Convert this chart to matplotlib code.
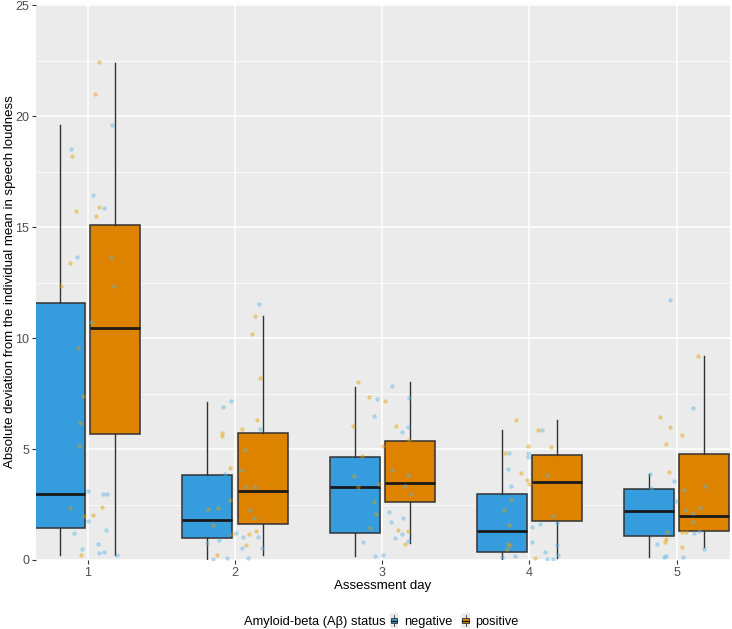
import numpy as np
import matplotlib
matplotlib.use('Agg')
import matplotlib.pyplot as plt
from matplotlib.patches import Patch, Rectangle
from matplotlib.lines import Line2D
from matplotlib.legend_handler import HandlerBase

plt.rcParams['font.family'] = ['Liberation Sans', 'DejaVu Sans']

days = [1, 2, 3, 4, 5]
groups = ['negative', 'positive']

# box statistics: lower whisker, q1, median, q3, upper whisker
neg_lo = [0.23, 0.0, 0.18, 0.0, 0.14]
neg_q1 = [1.44, 0.99, 1.20, 0.36, 1.08]
neg_med = [2.97, 1.80, 3.29, 1.31, 2.20]
neg_q3 = [11.58, 3.83, 4.65, 2.97, 3.20]
neg_hi = [19.6, 7.1, 7.8, 5.86, 3.87]

pos_lo = [0.23, 0.23, 0.76, 0.10, 0.59]
pos_q1 = [5.67, 1.62, 2.60, 1.76, 1.30]
pos_med = [10.45, 3.10, 3.46, 3.51, 1.98]
pos_q3 = [15.1, 5.72, 5.37, 4.73, 4.77]
pos_hi = [22.4, 11.0, 8.0, 6.3, 9.2]

# jittered raw points: values and horizontal jitter (in day units), per day
neg_y = [
    [19.6, 18.5, 16.44, 15.85, 13.65, 13.66, 12.36, 10.73, 3.09, 2.99, 2.99, 1.77, 1.34, 1.23, 0.73, 0.51, 0.3, 0.36, 0.21],
    [11.55, 7.16, 6.89, 5.91, 4.94, 4.07, 3.87, 3.3, 3.3, 2.25, 1.91, 1.2, 1.04, 1.02, 0.75, 0.89, 0.55, 0.55, 0.09, 0.03, 0.1],
    [7.82, 7.24, 7.3, 6.47, 5.99, 5.77, 4.04, 3.84, 3.33, 2.99, 2.18, 1.71, 1.89, 1.16, 1.0, 0.86, 0.83, 0.18, 0.21],
    [5.87, 4.82, 4.8, 4.63, 4.08, 3.33, 3.84, 2.0, 1.47, 1.61, 1.65, 0.83, 0.68, 0.35, 0.2, 0.14, 0.06, 0.03, 0.23],
    [11.73, 6.85, 3.86, 3.56, 3.26, 3.17, 3.33, 2.67, 2.24, 2.1, 2.33, 1.73, 1.22, 1.32, 0.71, 0.51, 0.17, 0.12, 0.12],
]
neg_jit = [
    [0.165, -0.114, 0.036, 0.113, -0.073, 0.158, 0.18, 0.022, 0.004, 0.104, 0.131, 0.0, 0.127, -0.091, 0.072, -0.039, 0.075, 0.113, 0.2],
    [0.161, -0.029, -0.079, 0.168, 0.068, 0.05, -0.07, 0.078, 0.137, 0.1, 0.132, 0.005, 0.16, 0.054, -0.193, -0.106, 0.048, 0.184, -0.052, -0.147, 0.09],
    [0.07, -0.034, 0.18, -0.059, 0.172, 0.133, 0.068, 0.174, 0.152, 0.193, 0.045, 0.061, 0.142, 0.133, 0.09, 0.176, -0.129, -0.05, 0.007],
    [0.086, -0.138, -0.007, -0.011, -0.147, -0.122, 0.118, 0.159, 0.016, 0.073, 0.184, 0.018, 0.19, 0.104, -0.095, -0.186, 0.118, 0.159, 0.193],
    [-0.043, 0.109, -0.18, -0.02, -0.174, 0.048, 0.19, -0.003, 0.054, 0.113, 0.158, 0.113, 0.12, 0.152, -0.136, 0.183, -0.073, -0.086, 0.044],
]
pos_y = [
    [22.45, 21.0, 18.2, 15.73, 15.9, 15.5, 13.4, 12.36, 9.53, 7.39, 6.18, 5.13, 2.34, 2.0, 2.4, 2.04, 0.23],
    [11.0, 10.18, 8.21, 6.29, 5.9, 5.7, 5.59, 4.13, 2.7, 2.31, 2.34, 1.58, 1.16, 1.31, 1.16, 0.66, 0.21],
    [8.03, 7.36, 7.15, 6.05, 6.04, 5.41, 5.14, 4.7, 3.78, 3.3, 3.42, 2.6, 2.09, 1.43, 1.34, 1.32, 0.72],
    [6.31, 5.86, 5.14, 5.08, 4.8, 3.9, 3.6, 3.42, 2.72, 2.27, 1.58, 0.71, 0.66, 0.51, 0.08],
    [9.2, 6.43, 6.0, 5.63, 5.21, 3.95, 1.28, 1.28, 1.26, 0.96, 0.8, 0.6],
]
pos_jit = [
    [0.075, 0.05, -0.109, -0.078, 0.079, 0.054, -0.118, -0.18, -0.068, -0.034, -0.052, -0.057, -0.122, -0.025, 0.097, 0.038, -0.046],
    [0.134, 0.113, 0.172, 0.153, 0.048, -0.091, -0.086, -0.034, -0.034, -0.18, -0.113, -0.147, -0.023, 0.14, 0.098, 0.075, -0.12],
    [-0.166, -0.088, 0.02, -0.197, 0.093, 0.18, 0.007, -0.136, -0.19, -0.161, -0.023, -0.057, -0.041, -0.084, 0.108, 0.176, 0.156],
    [-0.092, 0.059, -0.007, 0.147, -0.163, -0.059, -0.014, -0.005, -0.125, -0.172, -0.136, -0.147, -0.129, -0.154, 0.039],
    [0.143, -0.11, -0.048, 0.038, -0.07, -0.052, -0.063, 0.038, 0.063, -0.075, -0.08, 0.034],
]

box_colors = ['#359CDE', '#DE8300']
point_colors = ['#56B4E9', '#E69F00']


class BoxKey(HandlerBase):
    # small boxplot glyph like the ggplot legend key
    def create_artists(self, legend, orig_handle, xdescent, ydescent, width, height, fontsize, trans):
        bg = Rectangle((-xdescent, -ydescent - 2), width, height + 4, facecolor='#EBEBEB', edgecolor='none', transform=trans)
        cx = -xdescent + width / 2
        whisk = Line2D([cx, cx], [-ydescent - 1, -ydescent + height + 1], color='#333333', lw=0.6, transform=trans)
        box = Rectangle((-xdescent + width * 0.1, -ydescent + height * 0.2), width * 0.8, height * 0.6,
                        facecolor=orig_handle.get_facecolor(), edgecolor='#333333', lw=0.6, transform=trans)
        med = Line2D([-xdescent + width * 0.1, -xdescent + width * 0.9], [-ydescent + height / 2] * 2,
                     color='#1a1a1a', lw=1.0, transform=trans)
        return [bg, whisk, box, med]


fig = plt.figure(figsize=(7.32, 6.29), dpi=100)
ax = fig.add_axes([36 / 732, 1 - 560 / 629, 694 / 732, 556 / 629])
ax.set_facecolor('#EBEBEB')

dodge = 0.1875
width = 0.34
stats_sets = [
    (neg_lo, neg_q1, neg_med, neg_q3, neg_hi),
    (pos_lo, pos_q1, pos_med, pos_q3, pos_hi),
]
for g, (lo, q1, med, q3, hi) in enumerate(stats_sets):
    stats = []
    for i in range(len(days)):
        stats.append({'whislo': lo[i], 'q1': q1[i], 'med': med[i], 'q3': q3[i], 'whishi': hi[i], 'fliers': []})
    pos = [d + (dodge if g == 1 else -dodge) for d in days]
    ax.bxp(stats, positions=pos, widths=width, patch_artist=True, showcaps=False,
           showfliers=False, manage_ticks=False,
           boxprops=dict(facecolor=box_colors[g], edgecolor='#333333', linewidth=1.1),
           whiskerprops=dict(color='#333333', linewidth=1.0),
           medianprops=dict(color='#1a1a1a', linewidth=2.0),
           zorder=2)

for g, (ys, js) in enumerate([(neg_y, neg_jit), (pos_y, pos_jit)]):
    for i, d in enumerate(days):
        xs = [d + j for j in js[i]]
        ax.scatter(xs, ys[i], s=10, color=point_colors[g], alpha=0.45, linewidths=0, zorder=3)

ax.set_xlim(0.649, 5.362)
ax.set_ylim(0, 25.05)
ax.set_xticks(days)
ax.set_xticklabels([str(d) for d in days])
ax.set_yticks([0, 5, 10, 15, 20, 25])
ax.set_yticks([2.5, 7.5, 12.5, 17.5, 22.5], minor=True)
ax.grid(True, which='major', color='white', linewidth=1.1)
ax.grid(True, which='minor', axis='y', color='white', linewidth=0.5)
ax.set_axisbelow(True)
for s in ax.spines.values():
    s.set_visible(False)
ax.tick_params(axis='both', which='major', length=3, color='#333333', labelcolor='#4D4D4D', labelsize=9, pad=2)
ax.tick_params(axis='both', which='minor', length=0)

ax.set_xlabel('Assessment day', fontsize=9.5, labelpad=1)
ax.set_ylabel('Absolute deviation from the individual mean in speech loudness', fontsize=9.5)
ax.yaxis.set_label_coords(-0.029, 0.5)

fig.text(386 / 732, 1 - 622 / 629, 'Amyloid-beta (A\u03b2) status', fontsize=9.3, ha='right', va='center')
handles = [Patch(facecolor=box_colors[g], edgecolor='#333333', linewidth=0.8) for g in range(2)]
fig.legend(handles, groups, loc='center left', bbox_to_anchor=(390 / 732, 1 - 622 / 629), ncol=2,
           frameon=False, fontsize=9.2, handlelength=0.65, handleheight=0.7, handletextpad=0.45,
           columnspacing=0.7, borderpad=0, borderaxespad=0, handler_map={Patch: BoxKey()})

fig.savefig('out.png', dpi=100)
